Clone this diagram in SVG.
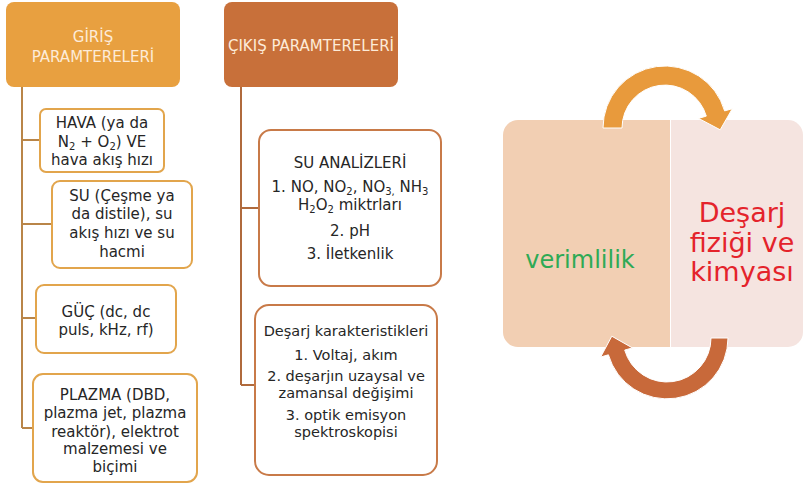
<svg xmlns="http://www.w3.org/2000/svg" width="804" height="488" viewBox="0 0 804 488">
<style>
.t{font-family:"DejaVu Sans","Liberation Sans",sans-serif;font-size:15px;fill:#262626;text-anchor:middle}
.s{font-size:14.5px}
.h{font-family:"DejaVu Sans","Liberation Sans",sans-serif;font-size:15px;fill:#FDEBD8;text-anchor:middle}
.bl{fill:#fff;stroke:#E2A54C;stroke-width:2}
.br{fill:#fff;stroke:#C87A48;stroke-width:2}
.cl{stroke:#B98548;stroke-width:2;fill:none}
.cr{stroke:#B06A3C;stroke-width:2;fill:none}
.big{font-family:"DejaVu Sans","Liberation Sans",sans-serif;text-anchor:middle}
</style>
<rect width="804" height="488" fill="#fff"/>
<g id="connectors">
<path class="cl" d="M22 86V428M22 140H40M22 224H52M22 318H36M22 428H33"/>
<path class="cr" d="M241 86V385M241 208H259M241 385H255"/>
</g>
<g id="giris">
<rect x="6" y="2" width="174" height="85" rx="8" fill="#E8A040"/>
<text class="h" x="93" y="42">GİRİŞ</text>
<text class="h" x="93" y="62">PARAMTERELERİ</text>
</g>
<g id="cikis">
<rect x="224" y="2" width="174" height="85" rx="8" fill="#C8703A"/>
<text class="h" x="311" y="51">ÇIKIŞ PARAMTERELERİ</text>
</g>
<g id="hava">
<rect class="bl" x="40" y="109" width="124" height="63" rx="6"/>
<text class="t" x="102" y="128">HAVA (ya da</text>
<text class="t" x="102" y="147">N<tspan font-size="10" dy="3">2</tspan><tspan dy="-3"> + O</tspan><tspan font-size="10" dy="3">2</tspan><tspan dy="-3">) VE</tspan></text>
<text class="t" x="102" y="165">hava akış hızı</text>
</g>
<g id="su">
<rect class="bl" x="52" y="181" width="140" height="87" rx="8"/>
<text class="t" x="122" y="201">SU (Çeşme ya</text>
<text class="t" x="122" y="219">da distile), su</text>
<text class="t" x="122" y="238">akış hızı ve su</text>
<text class="t" x="122" y="257">hacmi</text>
</g>
<g id="guc">
<rect class="bl" x="36" y="285" width="140" height="68" rx="8"/>
<text class="t" x="106" y="317">GÜÇ (dc, dc</text>
<text class="t" x="106" y="335">puls, kHz, rf)</text>
</g>
<g id="plazma">
<rect class="bl" x="33" y="374" width="164" height="108" rx="10"/>
<text class="t" x="115" y="400">PLAZMA (DBD,</text>
<text class="t" x="115" y="418">plazma jet, plazma</text>
<text class="t" x="115" y="437">reaktör), elektrot</text>
<text class="t" x="115" y="454">malzemesi ve</text>
<text class="t" x="115" y="472">biçimi</text>
</g>
<g id="suanaliz">
<rect class="br" x="259" y="130" width="182" height="156" rx="12"/>
<text class="t" x="350" y="168">SU ANALİZLERİ</text>
<text class="t" x="350" y="192">1. NO, NO<tspan font-size="10" dy="3">2</tspan><tspan dy="-3">, NO</tspan><tspan font-size="10" dy="3">3,</tspan><tspan dy="-3"> NH</tspan><tspan font-size="10" dy="3">3</tspan></text>
<text class="t" x="350" y="210">H<tspan font-size="10" dy="3">2</tspan><tspan dy="-3">O</tspan><tspan font-size="10" dy="3">2</tspan><tspan dy="-3">  miktrları</tspan></text>
<text class="t" x="350" y="236">2. pH</text>
<text class="t" x="350" y="259">3. İletkenlik</text>
</g>
<g id="desarjkar">
<rect class="br" x="255" y="305" width="182" height="170" rx="14"/>
<text class="t s" x="346" y="336">Deşarj karakteristikleri</text>
<text class="t s" x="346" y="360">1. Voltaj, akım</text>
<text class="t s" x="346" y="381">2. deşarjın uzaysal ve</text>
<text class="t s" x="346" y="398">zamansal değişimi</text>
<text class="t s" x="346" y="420">3. optik emisyon</text>
<text class="t s" x="346" y="437">spektroskopisi</text>
</g>
<g id="verimlilik">
<path d="M518 120H670V347H518A15 15 0 0 1 503 332V135A15 15 0 0 1 518 120Z" fill="#F2CFB3"/>
<text class="big" x="580" y="268" font-size="24" fill="#2EAA55">verimlilik</text>
</g>
<g id="desarjfizik">
<path d="M671 120H788A15 15 0 0 1 803 135V332A15 15 0 0 1 788 347H671Z" fill="#F5E4E0"/>
<text class="big" x="742" y="222" font-size="27" fill="#E4232B">Deşarj</text>
<text class="big" x="742" y="252" font-size="27" fill="#E4232B">fiziği ve</text>
<text class="big" x="742" y="281" font-size="27" fill="#E4232B">kimyası</text>
</g>
<g id="cycle-arrows">
<path d="M603 128A62 62 0 0 1 724.6 110.9L732.3 108.7L720.2 129.8L698.6 118.4L706.3 116.1A43 43 0 0 0 622 128Z" fill="#E89A3C" stroke="#fff" stroke-width="1"/>
<path d="M728 338A61 61 0 0 1 608.4 354.8L600.7 357L611.8 336.2L632.4 347.9L624.7 350.1A44 44 0 0 0 711 338Z" fill="#C8693A" stroke="#fff" stroke-width="1"/>
</g>
</svg>
